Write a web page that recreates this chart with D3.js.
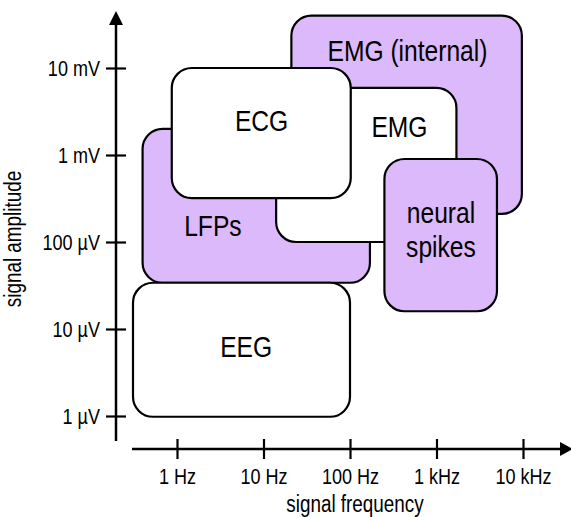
<!DOCTYPE html>
<html><head><meta charset="utf-8">
<script src="https://cdn.jsdelivr.net/npm/d3@7"></script>
<style>
body{margin:0;background:#fff;}
text{font-family:"Liberation Sans Narrow","Arial Narrow","Liberation Sans",Arimo,Arial,sans-serif;fill:#000;}
</style></head>
<body><svg id="c" width="571" height="517"></svg>
<script>
// Tick values and labels
const freqTicks = [1, 10, 100, 1000, 10000];
const freqTickLabels = ["1 Hz", "10 Hz", "100 Hz", "1 kHz", "10 kHz"];
const ampTicks = [1e-6, 1e-5, 1e-4, 1e-3, 1e-2];
const ampTickLabels = ["1 µV", "10 µV", "100 µV", "1 mV", "10 mV"];

// Signal regions (drawing order back to front): frequency range (Hz), amplitude range (V)
const names   = ["EMG (internal)", "LFPs", "EMG", "ECG", "neural spikes", "EEG"];
const fMin    = [21,   0.4,   14,    0.87,  250,   0.31];
const fMax    = [9700, 170,   1700,  102,   5000,  100];
const aMin    = [2.1e-4, 3.4e-5, 1.0e-4, 3.2e-4, 1.6e-5, 0.98e-6];
const aMax    = [4.0e-2, 2.0e-3, 5.9e-3, 1.0e-2, 0.9e-3, 3.4e-5];
const internal= [true, true, false, false, true, false];
// label anchor (centre frequency, baseline amplitude)
const labelF  = [462, 2.6, 373, 9.5, 1127, 6.3];
const labelA  = [1.2e-2, 1.17e-4, 1.61e-3, 1.89e-3, 1.65e-4, 4.8e-6];

const NARROW = 0.82;
function narrow(sel){
  sel.each(function(){
    const n = this.getComputedTextLength();
    if (n > 0) d3.select(this).attr("textLength", n*NARROW).attr("lengthAdjust","spacingAndGlyphs");
  });
}

const svg = d3.select("#c");
const x = d3.scaleLog().domain([1, 10000]).range([177, 523]);
const y = d3.scaleLog().domain([1e-6, 1e-2]).range([416, 68]);

// boxes
const boxes = names.map((n,i)=>({n, f0:fMin[i], f1:fMax[i], a0:aMin[i], a1:aMax[i], p:internal[i], lf:labelF[i], la:labelA[i]}));
const g = svg.append("g");
boxes.forEach(b=>{
  g.append("rect")
    .attr("x", x(b.f0)).attr("y", y(b.a1))
    .attr("width", x(b.f1)-x(b.f0)).attr("height", y(b.a0)-y(b.a1))
    .attr("rx", 20).attr("ry", 20)
    .attr("fill", b.p ? "#dcb9fb" : "#ffffff")
    .attr("stroke", "#000").attr("stroke-width", 2.2);
  const lines = b.n === "neural spikes" ? ["neural","spikes"] : [b.n];
  const t = g.append("text").attr("text-anchor","middle").attr("font-size", 30)
    .attr("x", x(b.lf)).attr("y", y(b.la));
  lines.forEach((l,k)=>{
    const ts = t.append("tspan").attr("x", x(b.lf)).attr("y", y(b.la) + k*34).text(l);
    narrow(ts);
  });
});

// axes
const axisY = 449, axisX = 116;
svg.append("line").attr("x1", 132).attr("x2", 562).attr("y1", axisY).attr("y2", axisY)
  .attr("stroke","#000").attr("stroke-width",2.5);
svg.append("path").attr("d", `M573,${axisY} L560,${axisY-7} L560,${axisY+7} Z`).attr("fill","#000");
svg.append("line").attr("x1", axisX).attr("x2", axisX).attr("y1", 24).attr("y2", 441)
  .attr("stroke","#000").attr("stroke-width",2.5);
svg.append("path").attr("d", `M${axisX},11 L${axisX-7},25 L${axisX+7},25 Z`).attr("fill","#000");

const xa = d3.axisBottom(x).tickValues(freqTicks).tickSize(0).tickFormat((d,i)=>freqTickLabels[i]);
const xg = svg.append("g").attr("transform", `translate(0,${axisY})`).call(xa);
xg.attr("font-family", null).attr("font-size", null);
xg.select(".domain").remove();
xg.selectAll(".tick").append("line").attr("y1",-10).attr("y2",10).attr("stroke","#000").attr("stroke-width",2.2);
xg.selectAll(".tick text").attr("y", 35).attr("dy", null).attr("font-size",22).attr("fill","#000").call(narrow);

const ya = d3.axisLeft(y).tickValues(ampTicks).tickSize(0).tickFormat((d,i)=>ampTickLabels[i]);
const yg = svg.append("g").attr("transform", `translate(${axisX},0)`).call(ya);
yg.attr("font-family", null).attr("font-size", null);
yg.select(".domain").remove();
yg.selectAll(".tick").append("line").attr("x1",-10).attr("x2",10).attr("stroke","#000").attr("stroke-width",2.2);
yg.selectAll(".tick text").attr("x", -16).attr("font-size",22).attr("fill","#000").call(narrow);

svg.append("text").attr("x", 355).attr("y", 512).attr("text-anchor","middle").attr("font-size",23)
  .text("signal frequency").call(narrow);
svg.append("text").attr("transform","translate(21,239) rotate(-90)").attr("text-anchor","middle").attr("font-size",23)
  .text("signal amplitude").call(narrow);
</script></body></html>
